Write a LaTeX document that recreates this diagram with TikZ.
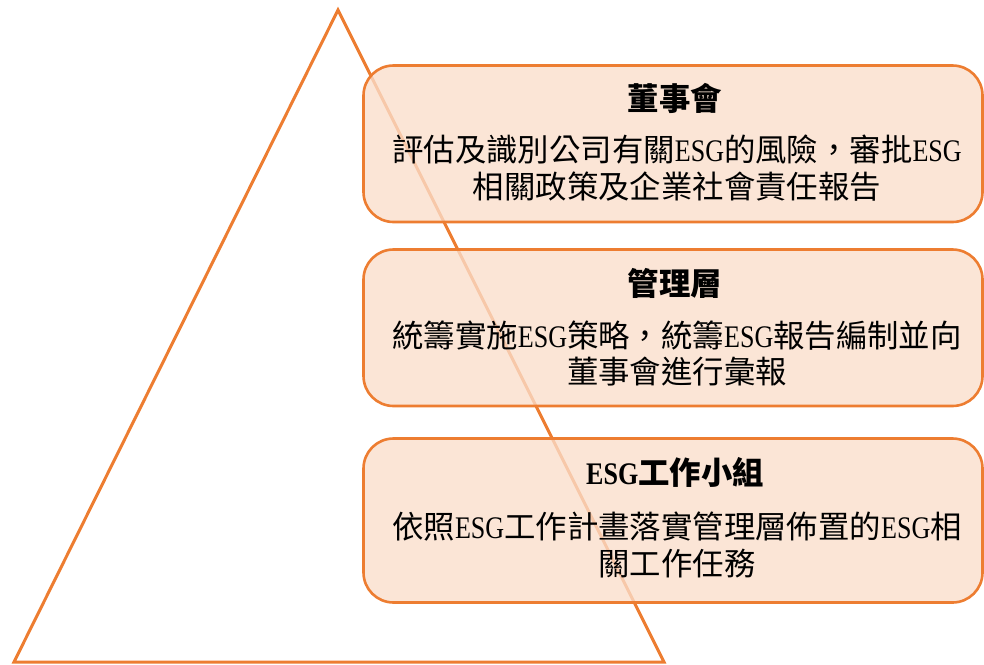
\documentclass[tikz,border=0pt]{standalone}
\usepackage{fontspec}
\setmainfont{Liberation Serif}
\newfontfamily\cjk{Noto Sans CJK TC}
\newfontfamily\latf[FakeStretch=0.83]{Liberation Serif}
\newcommand\ESG{{\latf ESG}}
\definecolor{edgeor}{RGB}{237,125,49}
\definecolor{boxfill}{RGB}{250,222,203}
\begin{document}
\begin{tikzpicture}[x=1pt,y=-1pt,
  tri/.style={draw=edgeor,line width=3pt,line join=miter},
  tierbox/.style={draw=edgeor,line width=2.6pt,fill=boxfill,fill opacity=0.78,rounded corners=30pt},
  ttl/.style={font=\cjk\bfseries\fontsize{31.4}{37}\selectfont,inner sep=0pt},
  bodytxt/.style={font=\cjk\fontsize{31.4}{36.5}\selectfont,align=center,inner sep=0pt}]
\useasboundingbox (0,0) rectangle (984,664);
\coordinate (apex) at (338,10);
\coordinate (bl) at (14,662);
\coordinate (br) at (664,662);
\draw[tri] (apex) -- (br) -- (bl) -- cycle;
% boxes
\draw[tierbox] (363.5,65.5) rectangle (982.5,222);
\draw[tierbox] (363.5,249.5) rectangle (982.5,406);
\draw[tierbox] (363.5,438.5) rectangle (982.5,602.5);
% texts
\node[ttl] (t1) at (675,98) {董事會};
\node[bodytxt] (d1) at (677,168) {評估及識別公司有關\ESG 的風險，審批\ESG\\相關政策及企業社會責任報告};
\node[ttl] (t2) at (675,283) {管理層};
\node[bodytxt] (d2) at (677,353.5) {統籌實施\ESG 策略，統籌\ESG 報告編制並向\\董事會進行彙報};
\node[ttl] (t3) at (675,472) {\ESG 工作小組};
\node[bodytxt] (d3) at (677,545) {依照\ESG 工作計畫落實管理層佈置的\ESG 相\\關工作任務};
\end{tikzpicture}
\end{document}
